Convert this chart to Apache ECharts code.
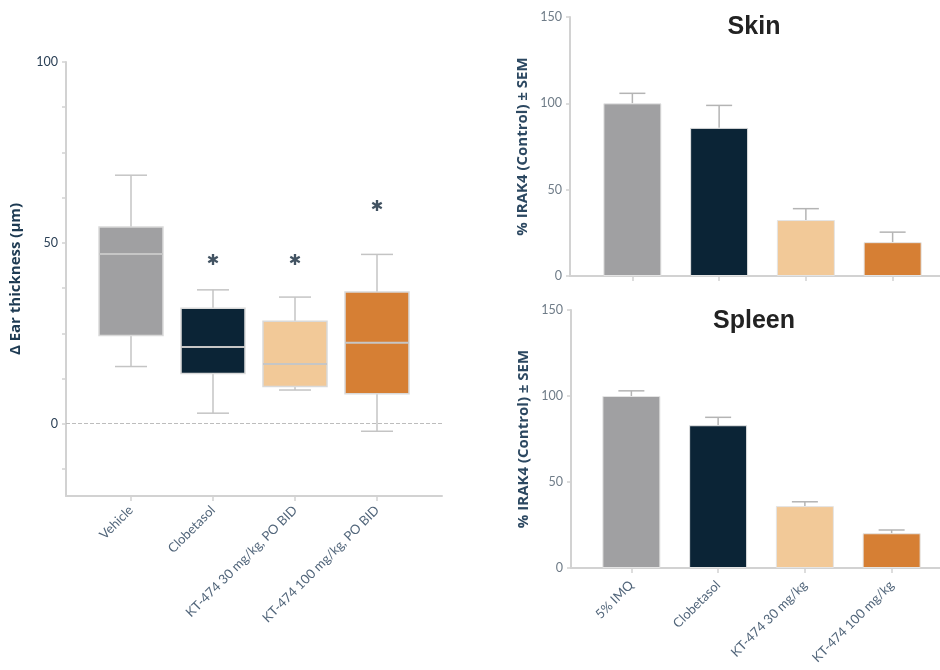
<!DOCTYPE html>
<html><head><meta charset="utf-8">
<script src="https://cdn.jsdelivr.net/npm/echarts@6/dist/echarts.min.js"></script>
<style>html,body{margin:0;padding:0;background:#fff}#c{width:940px;height:670px}</style>
</head><body><div id="c"></div>
<script>
// ---- data ----
const boxCategories = ['Vehicle', 'Clobetasol', 'KT-474 30 mg/kg, PO BID', 'KT-474 100 mg/kg, PO BID'];
const boxMin    = [15.8, 2.9, 9.3, -2.1];
const boxQ1     = [24.4, 13.9, 10.3, 8.3];
const boxMedian = [46.9, 21.2, 16.5, 22.4];
const boxQ3     = [54.4, 31.9, 28.3, 36.4];
const boxMax    = [68.7, 37.0, 35.0, 46.8];
const boxStars  = [null, 45, 45, 60];
const leftTicks = [-12.5, 0, 12.5, 25, 37.5, 50, 62.5, 75, 87.5, 100];
const leftLabels = [0, 50, 100];

const barCategories = ['5% IMQ', 'Clobetasol', 'KT-474 30 mg/kg', 'KT-474 100 mg/kg'];
const skinMean  = [100, 85.8, 32.4, 19.6];
const skinSem   = [5.8, 13.0, 6.6, 5.8];
const spleenMean = [100, 83.0, 36.0, 20.2];
const spleenSem  = [3.0, 4.6, 2.5, 1.9];

const groupColors = ['#a0a0a2', '#0b2436', '#f2c998', '#d67f34'];

// ---- chart ----
const chart = echarts.init(document.getElementById('c'));
const FONT = 'Lato';
const axisGray = '#d2d2d2';

function frameX(gi) {
  return { gridIndex: gi, type: 'value', min: 0, max: 1,
    axisLine: { show: true, onZero: false, lineStyle: { color: axisGray, width: 2 } },
    axisTick: { show: false }, axisLabel: { show: false }, splitLine: { show: false } };
}
function catX(gi, data, labels, margin) {
  return { gridIndex: gi, type: 'category', data: data,
    axisLine: { show: false, onZero: false },
    axisTick: { show: true, alignWithLabel: true, length: 5, lineStyle: { color: axisGray, width: 1.5 } },
    axisLabel: { show: labels, rotate: 45, margin: margin, color: '#51657a', fontFamily: FONT, fontSize: 13 } };
}
function hiddenY(gi, min, max) {
  return { gridIndex: gi, type: 'value', min: min, max: max, show: false };
}
function barY(gi) {
  return { gridIndex: gi, type: 'value', min: 0, max: 150, interval: 50,
    name: '% IRAK4 (Control) ± SEM', nameLocation: 'middle', nameGap: 40,
    nameTextStyle: { fontFamily: 'Open Sans', fontWeight: 'bold', fontSize: 15, color: '#2c4861' },
    axisLine: { show: true, lineStyle: { color: axisGray, width: 2 } },
    axisTick: { show: true, length: 4, lineStyle: { color: axisGray, width: 1.5 } },
    axisLabel: { margin: 8, color: '#6f7c88', fontFamily: FONT, fontSize: 12.5 },
    splitLine: { show: false } };
}

const boxData = boxCategories.map((c, i) => [i, boxMin[i], boxQ1[i], boxMedian[i], boxQ3[i], boxMax[i]]);
const starData = [];
boxStars.forEach((v, i) => { if (v !== null) starData.push([i, v]); });

function errData(mean, sem) { return mean.map((m, i) => [i, m, m + sem[i]]); }

function errRender(params, api) {
  const x = api.value(0);
  const p0 = api.coord([x, api.value(1)]);
  const p1 = api.coord([x, api.value(2)]);
  const cw = 26;
  const st = { stroke: '#b4b4b4', lineWidth: 1.5 };
  return { type: 'group', children: [
    { type: 'line', shape: { x1: p0[0], y1: p0[1], x2: p1[0], y2: p1[1] }, style: st },
    { type: 'line', shape: { x1: p1[0] - cw / 2, y1: p1[1], x2: p1[0] + cw / 2, y2: p1[1] }, style: st }
  ]};
}

const option = {
  backgroundColor: '#fff',
  animation: false,
  title: [
    { text: 'Skin', left: 749, top: 10, textAlign: 'center',
      textStyle: { fontFamily: 'Liberation Sans', fontWeight: 'bold', fontSize: 25, color: '#222' } },
    { text: 'Spleen', left: 749, top: 304, textAlign: 'center',
      textStyle: { fontFamily: 'Liberation Sans', fontWeight: 'bold', fontSize: 25, color: '#222' } }
  ],
  grid: [
    { left: 66, top: 62, width: 376, height: 434 },
    { left: 90, top: 62, width: 328, height: 434 },
    { left: 570, top: 17, width: 370, height: 259 },
    { left: 589, top: 17, width: 347, height: 259 },
    { left: 571, top: 310, width: 369, height: 258 },
    { left: 588, top: 310, width: 347, height: 258 }
  ],
  xAxis: [
    frameX(0),
    catX(1, boxCategories, true, 12),
    frameX(2),
    catX(3, barCategories, false, 12),
    frameX(4),
    catX(5, barCategories, true, 15)
  ],
  yAxis: [
    { gridIndex: 0, type: 'value', min: -20, max: 100,
      name: 'Δ Ear thickness (μm)', nameLocation: 'middle', nameGap: 43,
      nameTextStyle: { fontFamily: 'Open Sans', fontWeight: 'bold', fontSize: 15, color: '#1d3a52' },
      axisLine: { show: true, lineStyle: { color: axisGray, width: 2 } },
      axisTick: { show: true, length: 4, customValues: leftTicks, lineStyle: { color: axisGray, width: 1.5 } },
      axisLabel: { customValues: leftLabels, margin: 8, color: '#2a3f55', fontFamily: FONT, fontSize: 12.5 },
      splitLine: { show: false } },
    hiddenY(1, -20, 100),
    barY(2),
    hiddenY(3, 0, 150),
    barY(4),
    hiddenY(5, 0, 150)
  ],
  series: [
    { type: 'line', xAxisIndex: 0, yAxisIndex: 0, data: [], silent: true,
      markLine: { silent: true, symbol: 'none', label: { show: false },
        lineStyle: { color: '#bdbdbd', type: 'dashed', width: 1 }, data: [{ yAxis: 0 }] } },
    { type: 'custom', xAxisIndex: 1, yAxisIndex: 1, data: boxData,
      renderItem: function (params, api) {
        const x = api.value(0);
        const lo = api.coord([x, api.value(1)]);
        const q1 = api.coord([x, api.value(2)]);
        const md = api.coord([x, api.value(3)]);
        const q3 = api.coord([x, api.value(4)]);
        const hi = api.coord([x, api.value(5)]);
        const bw = api.size([1, 0])[0] * 0.78;
        const cw = bw * 0.5;
        const cx = lo[0];
        const ws = { stroke: '#c4c4c4', lineWidth: 1.5 };
        return { type: 'group', children: [
          { type: 'line', shape: { x1: cx, y1: lo[1], x2: cx, y2: q1[1] }, style: ws },
          { type: 'line', shape: { x1: cx, y1: q3[1], x2: cx, y2: hi[1] }, style: ws },
          { type: 'line', shape: { x1: cx - cw / 2, y1: lo[1], x2: cx + cw / 2, y2: lo[1] }, style: ws },
          { type: 'line', shape: { x1: cx - cw / 2, y1: hi[1], x2: cx + cw / 2, y2: hi[1] }, style: ws },
          { type: 'rect', shape: { x: cx - bw / 2, y: q3[1], width: bw, height: q1[1] - q3[1] },
            style: { fill: groupColors[params.dataIndex], stroke: '#d9d9d9', lineWidth: 1.5 } },
          { type: 'line', shape: { x1: cx - bw / 2, y1: md[1], x2: cx + bw / 2, y2: md[1] },
            style: { stroke: '#c6c6c6', lineWidth: 2 } }
        ]};
      } },
    { type: 'scatter', xAxisIndex: 1, yAxisIndex: 1, data: starData, symbolSize: 1,
      itemStyle: { color: 'rgba(0,0,0,0)' },
      label: { show: true, position: 'inside', formatter: '✱', offset: [0, 0],
        color: '#13283b', fontFamily: 'DejaVu Sans', fontSize: 15 } },
    { type: 'bar', xAxisIndex: 3, yAxisIndex: 3, data: skinMean.map((v, i) => ({ value: v, itemStyle: { color: groupColors[i] } })),
      barWidth: 58, itemStyle: { borderColor: '#e4e4e4', borderWidth: 1 } },
    { type: 'custom', xAxisIndex: 3, yAxisIndex: 3, data: errData(skinMean, skinSem), renderItem: errRender, z: 1 },
    { type: 'bar', xAxisIndex: 5, yAxisIndex: 5, data: spleenMean.map((v, i) => ({ value: v, itemStyle: { color: groupColors[i] } })),
      barWidth: 58, itemStyle: { borderColor: '#e4e4e4', borderWidth: 1 } },
    { type: 'custom', xAxisIndex: 5, yAxisIndex: 5, data: errData(spleenMean, spleenSem), renderItem: errRender, z: 1 }
  ]
};
chart.setOption(option);
</script>
</body></html>
